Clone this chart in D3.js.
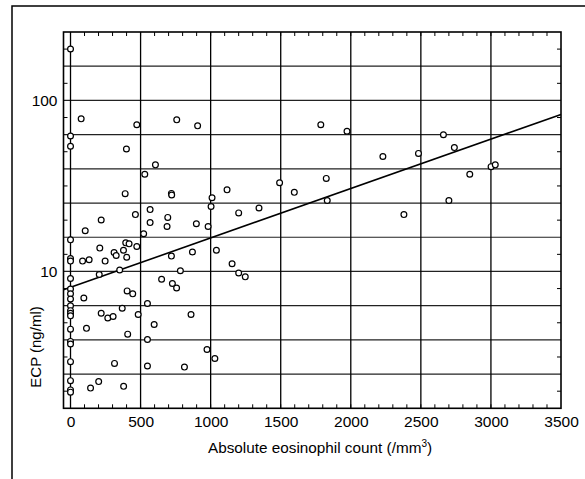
<!DOCTYPE html>
<html>
<head>
<meta charset="utf-8">
<script src="https://cdn.jsdelivr.net/npm/d3@7"></script>
<style>
  body { margin: 0; background: #fff; }
  text { font-family: "Liberation Sans", Arial, sans-serif; }
</style>
</head>
<body>
<svg width="585" height="479"></svg>
<script>
// absolute eosinophil count (/mm3) and matching ECP (ng/ml)
var eosCount = [0, 76, 473, 758, 907, 0, 0, 399, 606, 530,
  1786, 1973, 2661, 2739, 2229, 2483, 3001, 3031, 2849, 1492,
  1825, 1597, 1832, 2379, 2700, 1345, 1200, 1117, 1010, 1003,
  720, 722, 390, 568, 463, 568, 219, 105, 694, 689,
  898, 982, 522, 0, 394, 418, 473, 209, 311, 326,
  378, 401, 0, 0, 86, 133, 247, 351, 205, 720,
  870, 1041, 784, 1153, 1200, 1247, 650, 727, 757, 0,
  0, 0, 0, 95, 404, 444, 0, 0, 0, 0,
  369, 219, 266, 304, 483, 549, 860, 597, 0, 114,
  408, 549, 0, 0, 0, 314, 549, 974, 1030, 813,
  0, 201, 143, 379, 0, 0];
var ecpLevel = [200, 78, 72, 77, 71, 62, 54, 52, 42, 37,
  72, 66, 63, 53, 47, 49, 41, 42, 37, 33,
  35, 29, 26, 21.5, 26, 23.5, 22, 30, 27, 24,
  28.6, 28, 28.5, 23, 21.5, 19.3, 20, 17.3, 20.7, 18.3,
  19, 18.3, 16.6, 15.3, 14.7, 14.5, 14, 13.7, 12.9, 12.4,
  13.3, 12.1, 11.9, 11.5, 11.5, 11.7, 11.5, 10.2, 9.6, 12.3,
  13, 13.3, 10.1, 11.1, 9.8, 9.3, 9.0, 8.5, 8.0, 9.1,
  7.9, 7.4, 6.9, 7.0, 7.7, 7.4, 6.3, 5.9, 5.7, 5.5,
  6.1, 5.7, 5.35, 5.45, 5.6, 6.5, 5.6, 4.9, 4.6, 4.65,
  4.3, 4.0, 3.9, 3.77, 2.97, 2.9, 2.8, 3.5, 3.1, 2.76,
  2.3, 2.27, 2.08, 2.13, 2.03, 1.97];

// fitted line: ECP = fitIntercept * 10^(fitSlope * count)
var fitIntercept = 8.07;
var fitSlope = 0.000289;

var xTicks = [0, 500, 1000, 1500, 2000, 2500, 3000, 3500];
var yLabels = [10, 100];
var yGrid = [2.512, 3.981, 6.310, 10, 15.85, 25.12, 39.81, 63.10, 100, 158.5];

var svg = d3.select("svg");

// outer frame of the figure
svg.append("rect")
  .attr("x", 12).attr("y", 6)
  .attr("width", 620).attr("height", 520)
  .attr("fill", "none").attr("stroke", "#000").attr("stroke-width", 1.5);

var plotL = 63.5, plotR = 561, plotT = 32, plotB = 408.3;

var x = d3.scaleLinear().domain([-50, 3500]).range([plotL, plotR]);
var y = d3.scaleLog().domain([Math.pow(10, 0.2), Math.pow(10, 2.4)]).range([plotB, plotT]);

var g = svg.append("g");

// horizontal grid
g.selectAll(".hgrid").data(yGrid).enter().append("line")
  .attr("x1", plotL).attr("x2", plotR)
  .attr("y1", function(d) { return y(d); })
  .attr("y2", function(d) { return y(d); })
  .attr("stroke", "#222").attr("stroke-width", 1.2);

// vertical grid
g.selectAll(".vgrid").data(xTicks.slice(0, -1)).enter().append("line")
  .attr("y1", plotT).attr("y2", plotB)
  .attr("x1", function(d) { return x(d); })
  .attr("x2", function(d) { return x(d); })
  .attr("stroke", "#000").attr("stroke-width", 1.3);

// minor ticks, inside on all four sides
var xMinor = d3.range(0, 3500, 100);
var yMinor = d3.range(0.3, 2.4, 0.2).map(function(e) { return Math.pow(10, e); });

g.selectAll(".xminT").data(xMinor).enter().append("line")
  .attr("x1", function(d) { return x(d); }).attr("x2", function(d) { return x(d); })
  .attr("y1", plotT).attr("y2", plotT + 4)
  .attr("stroke", "#000").attr("stroke-width", 1);
g.selectAll(".xminB").data(xMinor).enter().append("line")
  .attr("x1", function(d) { return x(d); }).attr("x2", function(d) { return x(d); })
  .attr("y1", plotB).attr("y2", plotB - 4)
  .attr("stroke", "#000").attr("stroke-width", 1);
g.selectAll(".yminL").data(yMinor).enter().append("line")
  .attr("y1", function(d) { return y(d); }).attr("y2", function(d) { return y(d); })
  .attr("x1", plotL).attr("x2", plotL + 4)
  .attr("stroke", "#000").attr("stroke-width", 1);
g.selectAll(".yminR").data(yMinor).enter().append("line")
  .attr("y1", function(d) { return y(d); }).attr("y2", function(d) { return y(d); })
  .attr("x1", plotR).attr("x2", plotR - 4)
  .attr("stroke", "#000").attr("stroke-width", 1);

// plot border
g.append("rect")
  .attr("x", plotL).attr("y", plotT)
  .attr("width", plotR - plotL).attr("height", plotB - plotT)
  .attr("fill", "none").attr("stroke", "#000").attr("stroke-width", 1.6);

// regression line
g.append("path")
  .datum(x.domain())
  .attr("fill", "none").attr("stroke", "#000").attr("stroke-width", 1.6)
  .attr("d", d3.line()
    .x(function(d) { return x(d); })
    .y(function(d) { return y(fitIntercept * Math.pow(10, fitSlope * d)); }));

// points
g.selectAll(".pt").data(eosCount).enter().append("circle")
  .attr("cx", function(d) { return x(d); })
  .attr("cy", function(d, i) { return y(ecpLevel[i]); })
  .attr("r", 2.9)
  .attr("fill", "#fff").attr("stroke", "#000").attr("stroke-width", 1.2);

// axes (labels only)
var xAxis = svg.append("g")
  .attr("transform", "translate(0," + plotB + ")")
  .call(d3.axisBottom(x).tickValues(xTicks).tickSize(0).tickPadding(8).tickFormat(d3.format("d")));
xAxis.select(".domain").remove();
xAxis.selectAll("text").attr("font-size", 15.5).attr("fill", "#000").style("font-family", "'Liberation Sans',Arial,sans-serif");

var yAxis = svg.append("g")
  .attr("transform", "translate(" + plotL + ",0)")
  .call(d3.axisLeft(y).tickValues(yLabels).tickSize(0).tickPadding(6).tickFormat(d3.format("d")));
yAxis.select(".domain").remove();
yAxis.selectAll("text").attr("font-size", 15.5).attr("fill", "#000").style("font-family", "'Liberation Sans',Arial,sans-serif");

// axis titles
var xt = svg.append("text")
  .attr("x", 320).attr("y", 453)
  .attr("text-anchor", "middle").attr("font-size", 15.3);
xt.append("tspan").text("Absolute eosinophil count (/mm");
xt.append("tspan").attr("dy", -6).attr("font-size", 10).text("3");
xt.append("tspan").attr("dy", 6).text(")");

svg.append("text")
  .attr("transform", "translate(41,347) rotate(-90)")
  .attr("text-anchor", "middle").attr("font-size", 15)
  .text("ECP (ng/ml)");
</script>
</body>
</html>
